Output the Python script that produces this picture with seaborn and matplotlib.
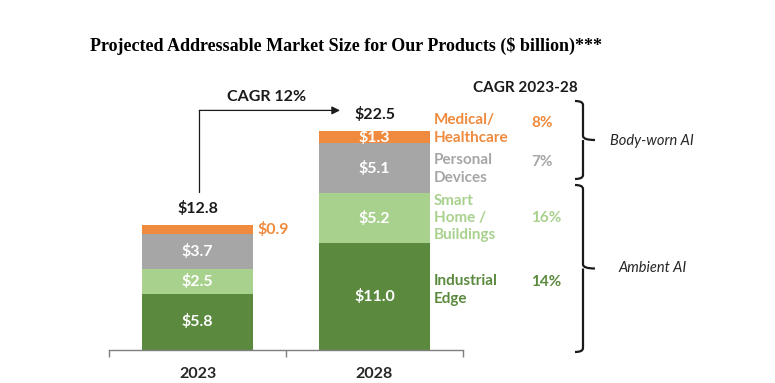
import matplotlib
matplotlib.use('agg')
import matplotlib.pyplot as plt
from matplotlib.path import Path
from matplotlib.patches import PathPatch
import seaborn as sns
import pandas as pd
import numpy as np

# data
years = ['2023', '2028']
segments = ['Industrial Edge', 'Smart Home / Buildings', 'Personal Devices', 'Medical/ Healthcare']
seg_labels = ['Industrial\nEdge', 'Smart\nHome /\nBuildings', 'Personal\nDevices', 'Medical/\nHealthcare']
values_2023 = [5.8, 2.5, 3.7, 0.9]
values_2028 = [11.0, 5.2, 5.1, 1.3]
totals = [12.8, 22.5]
seg_cagr = ['14%', '16%', '7%', '8%']
colors = ['#5B8A3F', '#A9D18E', '#A6A6A6', '#EF8A3E']
text_colors = ['#5B8A3F', '#A9D18E', '#A6A6A6', '#EF8A3E']
total_cagr = 'CAGR 12%'

df = pd.DataFrame({'year': np.repeat(years, len(segments)),
                   'segment': segments * 2,
                   'value': values_2023 + values_2028})
df['top'] = df.groupby('year')['value'].cumsum()

sns.set_style('white')
plt.rcParams['font.family'] = ['Lato', 'DejaVu Sans']

fig = plt.figure(figsize=(7.75, 3.83), dpi=100)
ax = fig.add_axes([109/775, 33/383, 354/775, 242.5/383])

# stacked bars: draw cumulative tops, biggest first
for i in range(len(segments) - 1, -1, -1):
    sub = df[df['segment'] == segments[i]]
    sns.barplot(data=sub, x='year', y='top', order=years, color=colors[i],
                width=0.625, saturation=1, ax=ax, errorbar=None, linewidth=0)

ax.set_xlim(-0.5, 1.5)
ax.set_ylim(0, 25)
ax.set_xlabel('')
ax.set_ylabel('')
ax.set_yticks([])
for s in ['top', 'right', 'left']:
    ax.spines[s].set_visible(False)
ax.spines['bottom'].set_color('#7F7F7F')
ax.spines['bottom'].set_linewidth(1)
ax.set_xticks([-0.5, 0.5, 1.5], minor=True)
ax.tick_params(axis='x', which='minor', bottom=True, length=5, color='#7F7F7F',
               width=1, direction='out')
ax.tick_params(axis='x', which='major', length=0, pad=12)
for t in ax.get_xticklabels():
    t.set_fontweight('bold')
    t.set_fontsize(11.5)
    t.set_color('#262626')

# segment value labels
for _, r in df.iterrows():
    xi = years.index(r['year'])
    mid = r['top'] - r['value'] / 2
    if r['segment'] == segments[3] and r['year'] == '2023':
        ax.text(xi + 0.34, mid, f"${r['value']:.1f}", color=colors[3], fontsize=11.5,
                fontweight='bold', ha='left', va='center')
    else:
        ax.text(xi, mid, f"${r['value']:.1f}", color='white', fontsize=11.5,
                fontweight='bold', ha='center', va='center')

# totals
for xi, t in enumerate(totals):
    ax.text(xi, t + 1.0, f"${t:.1f}", color='#1a1a1a', fontsize=11.5,
            fontweight='bold', ha='center', va='bottom', clip_on=False)

# CAGR arrow
ax.annotate('', xy=(0.805, 24.7), xytext=(0.01, 24.7),
            arrowprops=dict(arrowstyle='-|>', color='#1a1a1a', lw=0.9,
                            mutation_scale=12, shrinkA=0, shrinkB=0),
            annotation_clip=False)
ax.plot([0.01, 0.01], [16.3, 24.7], color='#1a1a1a', lw=0.9, clip_on=False)
ax.text(0.39, 25.4, total_cagr, fontsize=11.5, fontweight='bold', color='#1a1a1a',
        ha='center', va='bottom', clip_on=False)

# right-hand segment names and CAGRs (figure pixel positions)
def fx(px):
    return px / 775
def fy(py):
    return 1 - py / 383

name_y = [290, 218, 169, 129]
cagr_y = [282, 218, 162, 123]
for i in range(len(segments)):
    fig.text(fx(434), fy(name_y[i]), seg_labels[i], color=text_colors[i], fontsize=11,
             fontweight='bold', ha='left', va='center', linespacing=1.3)
    fig.text(fx(531), fy(cagr_y[i]), seg_cagr[i], color=text_colors[i], fontsize=11,
             fontweight='bold', ha='left', va='center')
fig.text(fx(473), fy(88), 'CAGR 2023-28', fontsize=11, fontweight='bold',
         color='#1a1a1a', ha='left', va='center')

# braces
def brace(x, y0, y1, tip=12, curl=8):
    ym = (y0 + y1) / 2
    verts = [(x - curl, y0), (x, y0), (x, y0 + 4),
             (x, ym - 4), (x, ym), (x + tip, ym),
             (x, ym), (x, ym + 4),
             (x, y1 - 4), (x, y1), (x - curl, y1)]
    codes = [Path.MOVETO, Path.CURVE3, Path.CURVE3,
             Path.LINETO, Path.CURVE3, Path.CURVE3,
             Path.MOVETO, Path.CURVE3,
             Path.LINETO, Path.CURVE3, Path.CURVE3]
    verts = [(fx(a), fy(b)) for a, b in verts]
    fig.patches.append(PathPatch(Path(verts, codes), transform=fig.transFigure,
                                 fill=False, lw=1.6, color='#1a1a1a'))

brace(583, 101, 179)
brace(583, 185, 352)
fig.text(fx(610), fy(141), 'Body-worn AI', fontsize=10.5, fontstyle='italic',
         color='#262626', ha='left', va='center')
fig.text(fx(618), fy(268), 'Ambient AI', fontsize=10.5, fontstyle='italic',
         color='#262626', ha='left', va='center')

# title
fig.text(fx(90), fy(46), 'Projected Addressable Market Size for Our Products ($ billion)***',
         family='Liberation Serif', fontsize=13, fontweight='bold', ha='left', va='center',
         color='black')

fig.savefig('out.png', dpi=100)
plt.close()
